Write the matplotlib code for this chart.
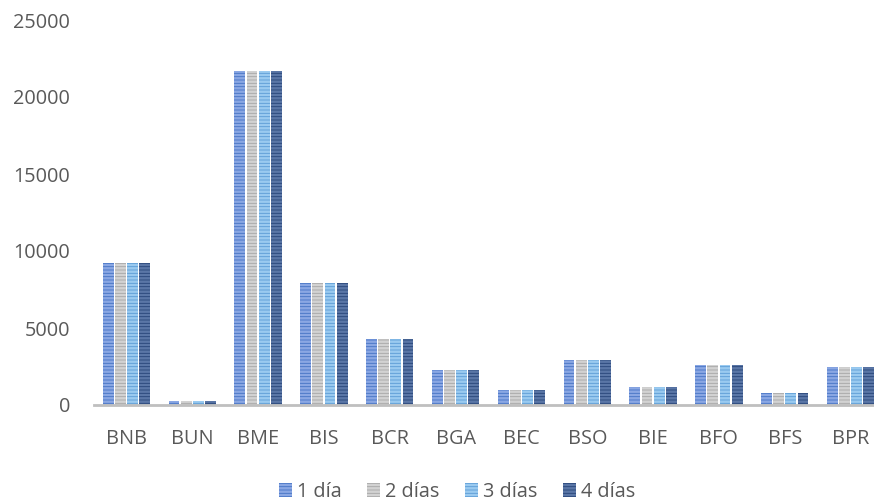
import matplotlib.pyplot as plt
import numpy as np

plt.rcParams['font.family'] = ['Open Sans', 'DejaVu Sans']
plt.rcParams['hatch.linewidth'] = 1.8

bancos = ['BNB', 'BUN', 'BME', 'BIS', 'BCR', 'BGA', 'BEC', 'BSO', 'BIE', 'BFO', 'BFS', 'BPR']
dia_1 = [9200, 250, 21700, 7950, 4300, 2300, 1000, 2900, 1200, 2600, 800, 2500]
dias_2 = [9200, 250, 21700, 7950, 4300, 2300, 1000, 2900, 1200, 2600, 800, 2500]
dias_3 = [9200, 250, 21700, 7950, 4300, 2300, 1000, 2900, 1200, 2600, 800, 2500]
dias_4 = [9200, 250, 21700, 7950, 4300, 2300, 1000, 2900, 1200, 2600, 800, 2500]
series = ['1 día', '2 días', '3 días', '4 días']

colores = ['#4472C4', '#A5A5A5', '#5B9BD5', '#264478']
rayas = ['#8AA7E3', '#D2D2D2', '#9ACAF0', '#5A76A6']

fig = plt.figure(figsize=(8.74, 5.04), dpi=100)
ax = fig.add_axes([93.5 / 874, 1 - 405 / 504, 790 / 874, 385 / 504])

x = np.arange(len(bancos))
width = 0.185
for i, vals in enumerate([dia_1, dias_2, dias_3, dias_4]):
    ax.bar(x + (i - 1.5) * width, vals, width * 0.88, color=colores[i],
           edgecolor=rayas[i], linewidth=0, hatch='-----', label=series[i])

ax.set_xlim(-0.5, len(bancos) - 0.5)
ax.set_ylim(0, 25000)
ax.set_yticks(range(0, 25001, 5000))
ax.set_xticks(x)
ax.set_xticklabels(bancos)
for s in ['top', 'right', 'left']:
    ax.spines[s].set_visible(False)
ax.spines['bottom'].set_color('#BFBFBF')
ax.spines['bottom'].set_linewidth(2)
ax.tick_params(axis='both', length=0, labelsize=14.3, colors='#595959')
ax.tick_params(axis='x', pad=17)
ax.tick_params(axis='y', pad=17)

fig.legend(loc='center', bbox_to_anchor=(457 / 874, 1 - 492 / 504), ncol=4,
           frameon=False, fontsize=14.3, labelcolor='#595959',
           handlelength=0.65, handleheight=0.65, handletextpad=0.25, columnspacing=1.3)

fig.savefig('out.png', dpi=100)
